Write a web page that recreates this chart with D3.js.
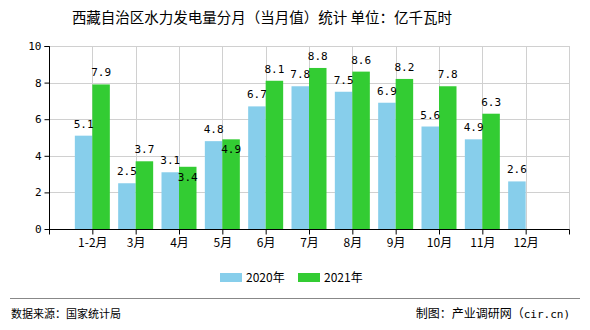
<!DOCTYPE html>
<html>
<head>
<meta charset="utf-8">
<script src="https://cdn.jsdelivr.net/npm/d3@7"></script>
<style>
  html, body { margin: 0; padding: 0; background: #fff; }
  svg { display: block; }
</style>
</head>
<body>
<svg id="chart" width="590" height="330"></svg>
<script>
// Monthly hydropower generation, Tibet (100 million kWh)
const months = ["1-2月", "3月", "4月", "5月", "6月", "7月", "8月", "9月", "10月", "11月", "12月"];
const values2020 = [5.1, 2.5, 3.1, 4.8, 6.7, 7.8, 7.5, 6.9, 5.6, 4.9, 2.6];
const values2021 = [7.9, 3.7, 3.4, 4.9, 8.1, 8.8, 8.6, 8.2, 7.8, 6.3, null];
const seriesNames = ["2020年", "2021年"];
const seriesColors = ["#87CEEB", "#33CC33"];
const yTicks = [0, 2, 4, 6, 8, 10];

const svg = d3.select("#chart");
const cjk = "'Noto Sans CJK SC', 'Noto Sans', sans-serif";
const mono = "'DejaVu Sans Mono', 'Liberation Mono', monospace";

const plotL = 49, plotR = 569, plotT = 46, plotB = 229;

// categories sit at integer positions 1..11 on a 0..12 axis
const x = d3.scaleLinear().domain([0, months.length + 1]).range([plotL, plotR]);
const y = d3.scaleLinear().domain([0, 10]).range([plotB, plotT]);
const barW = 17.5;

// title
svg.append("text")
  .attr("x", 262).attr("y", 23)
  .attr("text-anchor", "middle")
  .style("font-family", cjk).style("font-size", "14.5px").style("fill", "#000")
  .text("西藏自治区水力发电量分月（当月值）统计 单位：亿千瓦时");

// grid
const grid = svg.append("g").attr("stroke", "#d0d0d0").attr("stroke-width", 1);
yTicks.filter(d => d > 0).forEach(t => {
  grid.append("line").attr("x1", plotL).attr("x2", plotR)
    .attr("y1", Math.round(y(t)) + 0.5).attr("y2", Math.round(y(t)) + 0.5);
});
d3.range(1, months.length + 2).forEach(i => {
  grid.append("line").attr("y1", plotT).attr("y2", plotB)
    .attr("x1", Math.round(x(i)) + 0.5).attr("x2", Math.round(x(i)) + 0.5);
});

// bars
const bars = svg.append("g");
months.forEach((m, i) => {
  const c = x(i + 1);
  const v0 = values2020[i], v1 = values2021[i];
  if (v0 != null) {
    bars.append("rect").attr("x", c - barW).attr("y", y(v0))
      .attr("width", barW).attr("height", y(0) - y(v0)).attr("fill", seriesColors[0]);
  }
  if (v1 != null) {
    bars.append("rect").attr("x", c).attr("y", y(v1))
      .attr("width", barW).attr("height", y(0) - y(v1)).attr("fill", seriesColors[1]);
  }
});

// value labels; a label that would collide with its neighbour drops inside the bar
const labels = svg.append("g")
  .style("font-family", mono).style("font-size", "11px").style("fill", "#000")
  .attr("text-anchor", "middle");
months.forEach((m, i) => {
  const c = x(i + 1);
  const v0 = values2020[i], v1 = values2021[i];
  if (v0 != null) {
    labels.append("text").attr("x", c - barW / 2).attr("y", y(v0) - 8).text(v0.toFixed(1));
  }
  if (v1 != null) {
    const clash = v0 != null && Math.abs(v1 - v0) < 0.5;
    labels.append("text").attr("x", c + barW / 2)
      .attr("y", clash ? y(v1) + 14 : y(v1) - 8).text(v1.toFixed(1));
  }
});

// axes
const yAxis = d3.axisLeft(y).tickValues(yTicks).tickSize(5).tickPadding(3);
const gy = svg.append("g").attr("transform", `translate(${plotL + 0.5},0)`).call(yAxis);
gy.selectAll("path, line").attr("stroke", "#000");
gy.selectAll("text").style("font-family", mono).style("font-size", "11px").style("fill", "#000");
gy.select(".domain").attr("d", `M-5,${plotT + 0.5}H0V${plotB}`);

const xAxis = d3.axisBottom(x).tickValues(d3.range(0, months.length + 2))
  .tickSize(5).tickPadding(4)
  .tickFormat(d => (d >= 1 && d <= months.length) ? months[d - 1] : "");
const gx = svg.append("g").attr("transform", `translate(0,${plotB + 0.5})`).call(xAxis);
gx.selectAll("path, line").attr("stroke", "#000");
gx.select(".domain").attr("d", `M${plotL},0H${plotR + 0.5}`);
gx.selectAll("text").style("font-family", cjk).style("font-size", "12px").style("fill", "#000");

// legend
const legend = svg.append("g");
const legendX = [220, 298];
seriesNames.forEach((n, i) => {
  legend.append("rect").attr("x", legendX[i]).attr("y", 273)
    .attr("width", 22).attr("height", 9).attr("fill", seriesColors[i]);
  legend.append("text").attr("x", legendX[i] + 26).attr("y", 282)
    .style("font-family", cjk).style("font-size", "12px").style("fill", "#000").text(n);
});

// footer
svg.append("line").attr("x1", 10).attr("x2", 580).attr("y1", 298.5).attr("y2", 298.5)
  .attr("stroke", "#888").attr("stroke-width", 1);
svg.append("text").attr("x", 11).attr("y", 318)
  .style("font-family", cjk).style("font-size", "11px").style("fill", "#000")
  .text("数据来源：国家统计局");
const credit = svg.append("text").attr("x", 570).attr("y", 318).attr("text-anchor", "end")
  .style("font-family", cjk).style("font-size", "12px").style("fill", "#000");
credit.append("tspan").text("制图：产业调研网（");
credit.append("tspan").style("font-family", mono).style("font-size", "11px").text("cir.cn)");
</script>
</body>
</html>
